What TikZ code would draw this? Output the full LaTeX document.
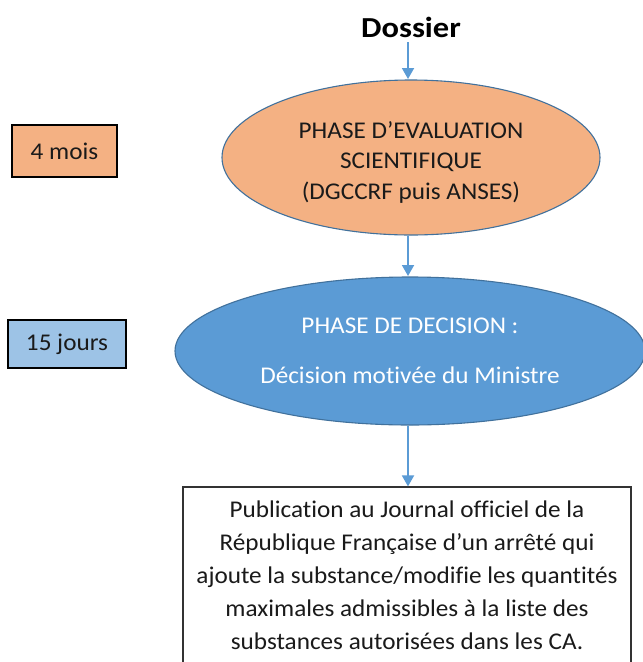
\documentclass[tikz,border=0pt]{standalone}
\usepackage{fontspec}
\setmainfont{Carlito}[FakeStretch=1.05, Ligatures=NoCommon]
\newfontfamily\dosfont{Carlito}[FakeStretch=1.12, Ligatures=NoCommon]
\usetikzlibrary{shapes.geometric,arrows.meta}
\definecolor{orfill}{HTML}{F4B183}
\definecolor{blfill}{HTML}{5B9BD5}
\definecolor{ltblue}{HTML}{9DC3E6}
\definecolor{edgeblue}{HTML}{41719C}
\definecolor{arrowblue}{HTML}{5B9BD5}
\definecolor{txtdark}{HTML}{1A1A1A}
\tikzset{
  phase/.style={ellipse, draw=edgeblue, line width=1.1pt, inner sep=0pt},
  durbox/.style={draw=black, line width=1.2pt, inner sep=0pt},
  flow/.style={draw=arrowblue, line width=1.8pt, -{Triangle[length=11pt,width=12pt]}},
  txt/.style={font=\fontsize{24}{30.5}\selectfont, align=center, text=txtdark, inner sep=0pt}
}
\begin{document}
\begin{tikzpicture}[x=1pt,y=-1pt]
\clip (0,0) rectangle (643,662);
\fill[white] (0,0) rectangle (643,662);
\node[font=\fontsize{29}{30}\dosfont\bfseries, text=black, inner sep=0pt, anchor=base] (dos) at (411,37) {Dossier};
\node[phase, fill=orfill, minimum width=378pt, minimum height=155pt] (eval) at (411,157.5) {};
\node[txt] (evaltxt) at (411,162.3) {PHASE D’EVALUATION\\SCIENTIFIQUE\\(DGCCRF puis ANSES)};
\node[phase, fill=blfill, minimum width=470pt, minimum height=148pt] (dec) at (410,351) {};
\node[txt, text=white, font=\fontsize{24}{50}\selectfont] (dectxt) at (410,350.3)
  {PHASE DE DECISION :\\Décision motivée du Ministre};
\node[durbox, fill=orfill, minimum width=105pt, minimum height=52pt, txt] (m4) at (64.5,151) {4 mois};
\node[durbox, fill=ltblue, minimum width=118pt, minimum height=48pt, txt] (j15) at (67,344) {15 jours};
\node[durbox, draw=black!80, fill=white, minimum width=448pt, minimum height=176pt, txt,
  font=\fontsize{24}{33}\selectfont] (pub) at (407,575)
  {Publication au Journal officiel de la\\République Française d’un arrêté qui\\ajoute la substance/modifie les quantités\\maximales admissibles à la liste des\\substances autorisées dans les CA.};
\coordinate (a1s) at (408,42);
\draw[flow] (a1s) -- (408,79);
\draw[flow] (eval.south -| a1s) -- (408,276);
\draw[flow] (dec.south -| a1s) -- (pub.north -| a1s);
\end{tikzpicture}
\end{document}
